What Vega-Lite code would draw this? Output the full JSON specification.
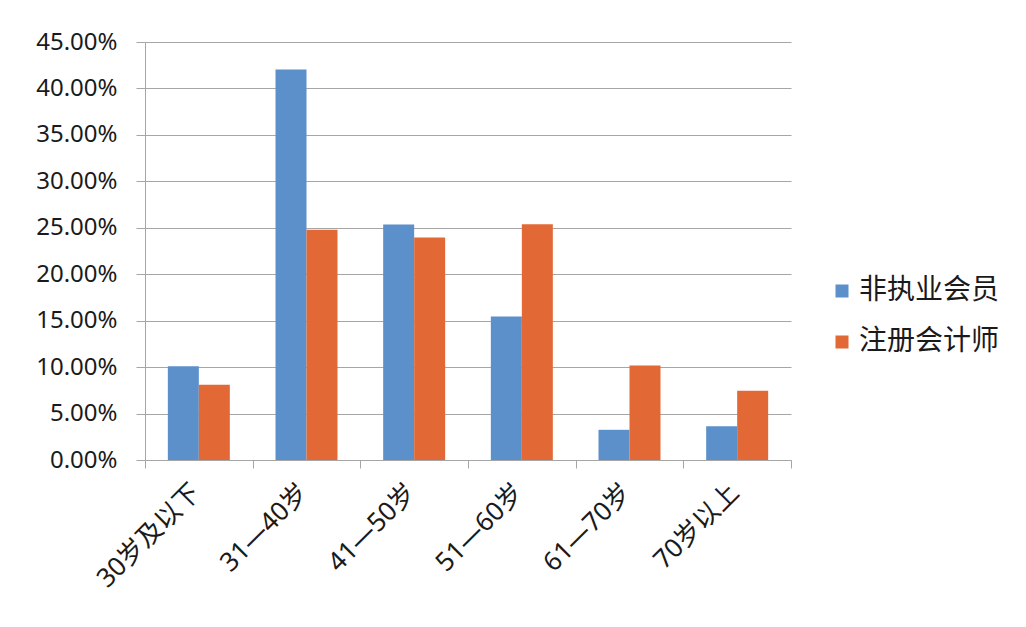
{
  "$schema": "https://vega.github.io/schema/vega-lite/v6.json",
  "width": 646,
  "height": 418,
  "autosize": {"type": "none"},
  "padding": {"left": 145, "top": 42, "right": 235, "bottom": 167},
  "background": "white",
  "data": {
    "values": [
      {"age": "30岁及以下", "group": "非执业会员", "pct": 0.101},
      {"age": "30岁及以下", "group": "注册会计师", "pct": 0.081},
      {"age": "31—40岁", "group": "非执业会员", "pct": 0.4205},
      {"age": "31—40岁", "group": "注册会计师", "pct": 0.248},
      {"age": "41—50岁", "group": "非执业会员", "pct": 0.2535},
      {"age": "41—50岁", "group": "注册会计师", "pct": 0.2395},
      {"age": "51—60岁", "group": "非执业会员", "pct": 0.1545},
      {"age": "51—60岁", "group": "注册会计师", "pct": 0.2538},
      {"age": "61—70岁", "group": "非执业会员", "pct": 0.0325},
      {"age": "61—70岁", "group": "注册会计师", "pct": 0.1018},
      {"age": "70岁以上", "group": "非执业会员", "pct": 0.0362},
      {"age": "70岁以上", "group": "注册会计师", "pct": 0.0745}
    ]
  },
  "mark": {"type": "bar"},
  "encoding": {
    "x": {
      "field": "age",
      "type": "nominal",
      "sort": null,
      "scale": {"paddingInner": 0, "paddingOuter": 0},
      "axis": {
        "title": null,
        "labelAngle": -45,
        "labelAlign": "right",
        "labelBaseline": "middle",
        "labelFont": "Noto Sans, Noto Sans CJK SC",
        "labelFontSize": 26,
        "labelColor": "#1a1a1a",
        "labelPadding": 20,
        "labelOffset": -3,
        "tickBand": "extent",
        "tickSize": 8,
        "tickColor": "#a6a6a6",
        "domainColor": "#a6a6a6",
        "grid": false
      }
    },
    "xOffset": {"field": "group", "type": "nominal", "sort": ["非执业会员", "注册会计师"], "scale": {"paddingInner": 0, "paddingOuter": 0.737}},
    "y": {
      "field": "pct",
      "type": "quantitative",
      "scale": {"domain": [0, 0.45], "nice": false},
      "axis": {
        "title": null,
        "format": ".2%",
        "values": [0, 0.05, 0.1, 0.15, 0.2, 0.25, 0.3, 0.35, 0.4, 0.45],
        "labelFont": "Noto Sans, Noto Sans CJK SC",
        "labelFontSize": 24,
        "labelColor": "#1a1a1a",
        "labelPadding": 19,
        "tickSize": 9,
        "tickColor": "#a6a6a6",
        "domainColor": "#a6a6a6",
        "gridColor": "#a6a6a6",
        "gridWidth": 1
      }
    },
    "color": {
      "field": "group",
      "type": "nominal",
      "sort": ["非执业会员", "注册会计师"],
      "scale": {"domain": ["非执业会员", "注册会计师"], "range": ["#5b90cb", "#e26935"]},
      "legend": {
        "title": null,
        "orient": "none",
        "legendX": 683,
        "legendY": 235,
        "symbolType": "square",
        "symbolSize": 169,
        "symbolStrokeWidth": 0,
        "labelFont": "Noto Sans CJK SC",
        "labelFontSize": 28,
        "labelColor": "#1a1a1a",
        "labelOffset": 3,
        "rowPadding": 23
      }
    }
  },
  "config": {
    "view": {"stroke": null}
  }
}
